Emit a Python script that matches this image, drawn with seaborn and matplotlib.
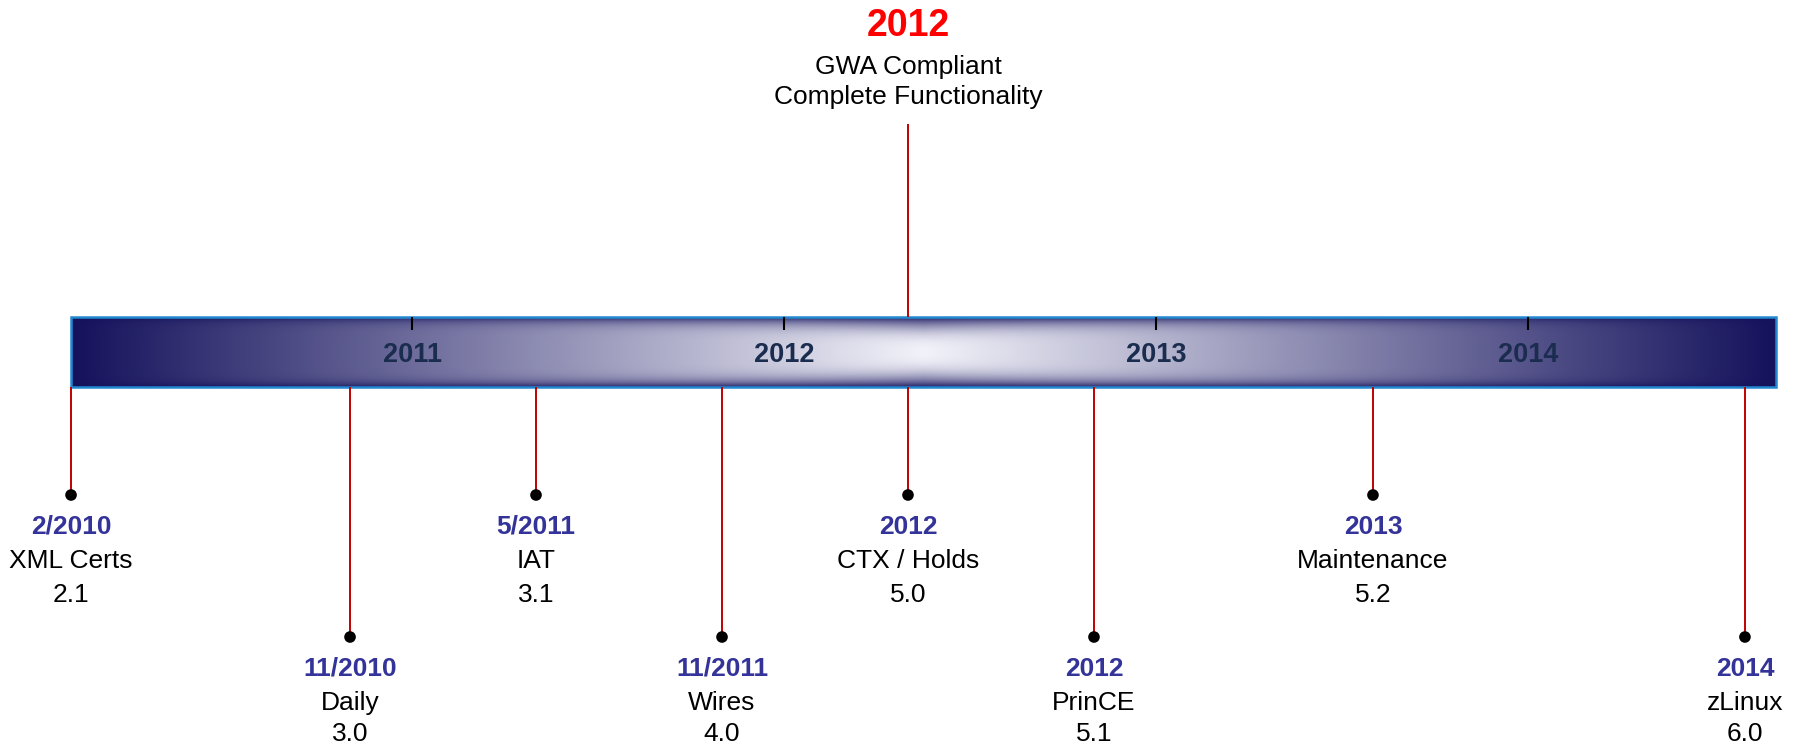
#Timeline of releases drawn as a gradient bar with milestone stems
import numpy as np
import pandas as pd
import seaborn as sns
import matplotlib.pyplot as plt
import matplotlib.patches as mpatches

# milestone data
dates = ["2/2010", "11/2010", "5/2011", "11/2011", "2012", "2012", "2013", "2014"]
names = ["XML Certs", "Daily", "IAT", "Wires", "CTX / Holds", "PrinCE", "Maintenance", "zLinux"]
versions = ["2.1", "3.0", "3.1", "4.0", "5.0", "5.1", "5.2", "6.0"]
when = [2010.083, 2010.833, 2011.333, 2011.833, 2012.333, 2012.833, 2013.583, 2014.583]
years = [2011, 2012, 2013, 2014]

top_date = "2012"
top_lines = ["GWA Compliant", "Complete Functionality"]
top_when = 2012.333
bar_start, bar_end = 2010.083, 2014.667

df = pd.DataFrame({"date": dates, "name": names, "version": versions, "when": when})
# alternate milestones between an upper and lower row
df["row"] = np.arange(len(df)) % 2

sns.set_theme(style="white")
plt.rcParams['font.family'] = ['Liberation Sans', 'DejaVu Sans']

fig = plt.figure(figsize=(18, 7.45), dpi=100)
ax = fig.add_axes([0, 0, 1, 1])
ax.set_xlim(2009.892, 2014.731)
ax.set_ylim(745, 0)
ax.axis('off')

# layout in pixel rows (y axis runs top to bottom)
bar_top, bar_bot = 317, 387
dot_y = np.array([495, 637])
text_off = {0: [32, 66, 100], 1: [32, 66, 97]}

# gradient bar: light in the middle, dark navy at the ends and edges
nx, ny = 800, 140
xn = np.linspace(-1, 1, nx)
yn = np.linspace(-1, 1, ny)
hx = 1 - np.abs(xn)
X, Y = np.meshgrid(hx, yn)
p = 7.5 - 5.0 * X ** 2
v = 1 - np.abs(Y * 0.97) ** p
blend = np.clip(X * v, 0, 1)[..., None]
dark = np.array([0.08, 0.07, 0.36])
light = np.array([0.95, 0.95, 0.98])
img = dark + blend * (light - dark)
ax.imshow(img, extent=[bar_start, bar_end, bar_bot, bar_top], aspect='auto', zorder=1)
ax.add_patch(mpatches.Rectangle((bar_start, bar_top), bar_end - bar_start, bar_bot - bar_top,
                                fill=False, edgecolor='#2288d0', lw=1.8, zorder=2))

# year ticks inside the bar
ax.vlines(years, bar_top, bar_top + 13, color='black', lw=1.5, zorder=3)
for yr in years:
    ax.text(yr, 355, str(yr), ha='center', va='center', fontsize=19.5,
            fontweight='bold', color='#1b2d4f', zorder=3)

# stems and dots
ys = dot_y[df["row"]]
ax.vlines(df["when"], bar_bot, ys, color='#c00000', lw=1.4, zorder=2)
sns.scatterplot(x=df["when"], y=ys, color='black', s=70, edgecolor='none',
                legend=False, ax=ax, zorder=4)

for _, r in df.iterrows():
    y0 = dot_y[r["row"]]
    off = text_off[r["row"]]
    ax.text(r["when"], y0 + off[0], r["date"], ha='center', va='center',
            fontsize=19, fontweight='bold', color='#333399')
    ax.text(r["when"], y0 + off[1], r["name"], ha='center', va='center',
            fontsize=19, color='black')
    ax.text(r["when"], y0 + off[2], r["version"], ha='center', va='center',
            fontsize=19, color='black')

# top milestone
ax.vlines(top_when, 124, bar_top, color='#c00000', lw=1.4, zorder=2)
ax.text(top_when, 26, top_date, ha='center', va='center', fontsize=27,
        fontweight='bold', color='red')
ax.text(top_when, 67, top_lines[0], ha='center', va='center', fontsize=19, color='black')
ax.text(top_when, 97, top_lines[1], ha='center', va='center', fontsize=19, color='black')

fig.savefig('out.png', dpi=100)
